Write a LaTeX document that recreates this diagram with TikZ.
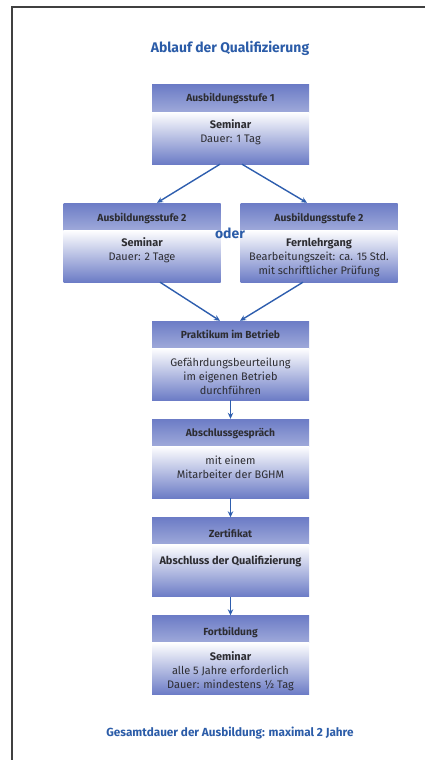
\documentclass[tikz,border=0pt]{standalone}
\usepackage{fontspec}
\setmainfont{Fira Sans}
\usetikzlibrary{arrows.meta}

\definecolor{boxblau}{RGB}{108,124,198}
\definecolor{titelblau}{RGB}{43,92,168}
\definecolor{pfeilblau}{RGB}{46,94,174}
\definecolor{schrift}{RGB}{45,45,50}

\tikzset{
  stufe/.style={rectangle, minimum width=157bp, minimum height=79bp, inner sep=0pt,
    path picture={
      \shade[top color=boxblau, bottom color=white]
        (path picture bounding box.north west) rectangle ([yshift=-27bp]path picture bounding box.north east);
      \shade[top color=white, bottom color=boxblau]
        ([yshift=-27bp]path picture bounding box.north west) rectangle (path picture bounding box.south east);
    }},
  kopf/.style={anchor=base, inner sep=0pt, text=schrift, font=\fontsize{10.3}{12}\selectfont\bfseries},
  inhalt/.style={anchor=north, inner sep=0pt, align=center, text=schrift, font=\fontsize{11}{14}\selectfont},
  pfeil/.style={draw=pfeilblau, line width=1.4bp, -{Stealth[length=6bp,width=5.5bp]}}
}

\begin{document}
\begin{tikzpicture}
  [x=1bp, y=-1bp]
  \useasboundingbox (0,0) rectangle (425,760);
  \draw[line width=1.4bp, black!75] (12,760) -- (12,7) -- (425,7);

  \node[text=titelblau, font=\fontsize{14}{16}\selectfont\bfseries] (titel) at (230,48) {Ablauf der Qualifizierung};

  % Kaestchen
  \node[stufe] (s1)  at (230.5,124.5) {};
  \node[stufe] (s2l) at (142,242.5) {};
  \node[stufe] (s2r) at (319,242.5) {};
  \node[stufe] (s3)  at (230.5,360.5) {};
  \node[stufe] (s4)  at (230.5,458.5) {};
  \node[stufe] (s5)  at (230.5,557) {};
  \node[stufe] (s6)  at (230.5,655) {};

  \node[kopf] (k1)  at ([yshift=-17bp]s1.north)  {Ausbildungsstufe 1};
  \node[kopf] (k2l) at ([yshift=-19bp]s2l.north) {Ausbildungsstufe 2};
  \node[kopf] (k2r) at ([yshift=-19bp]s2r.north) {Ausbildungsstufe 2};
  \node[kopf] (k3)  at ([yshift=-18bp]s3.north)  {Praktikum im Betrieb};
  \node[kopf] (k4)  at ([yshift=-18bp]s4.north)  {Abschlussgespräch};
  \node[kopf] (k5)  at ([yshift=-20bp]s5.north)  {Zertifikat};
  \node[kopf] (k6)  at ([yshift=-20bp]s6.north)  {Fortbildung};

  \node[inhalt] (t1)  at ([yshift=-35bp]s1.north)  {\textbf{Seminar}\\Dauer: 1 Tag};
  \node[inhalt] (t2l) at ([yshift=-35bp]s2l.north) {\textbf{Seminar}\\Dauer: 2 Tage};
  \node[inhalt] (t2r) at ([yshift=-35bp]s2r.north) {\textbf{Fernlehrgang}\\Bearbeitungszeit: ca. 15 Std.\\mit schriftlicher Prüfung};
  \node[inhalt] (t3)  at ([yshift=-37bp]s3.north)  {Gefährdungsbeurteilung\\im eigenen Betrieb\\durchführen};
  \node[inhalt] (t4)  at ([yshift=-37bp]s4.north)  {mit einem\\Mitarbeiter der BGHM};
  \node[inhalt] (t5)  at ([yshift=-38bp]s5.north)  {\textbf{Abschluss der Qualifizierung}};
  \node[inhalt] (t6)  at ([yshift=-36bp]s6.north)  {\textbf{Seminar}\\alle 5 Jahre erforderlich\\Dauer: mindestens ½ Tag};

  \node[text=titelblau, font=\fontsize{14}{16}\selectfont\bfseries] (oder) at (230,233) {oder};

  % Pfeile
  \draw[pfeil] ([xshift=-10.5bp]s1.south) -- ([xshift=15bp]s2l.north);
  \draw[pfeil] ([xshift=11.5bp]s1.south)  -- ([xshift=-12bp]s2r.north);
  \draw[pfeil] ([xshift=18bp]s2l.south)   -- ([xshift=-10.5bp]s3.north);
  \draw[pfeil] ([xshift=-16bp]s2r.south)  -- ([xshift=9.5bp]s3.north);
  \draw[pfeil] (s3) -- (s4);
  \draw[pfeil] (s4) -- (s5);
  \draw[pfeil] (s5) -- (s6);

  \node[text=titelblau, font=\fontsize{11.8}{14}\selectfont\bfseries] (dauer) at (230,733) {Gesamtdauer der Ausbildung: maximal 2 Jahre};
\end{tikzpicture}
\end{document}
